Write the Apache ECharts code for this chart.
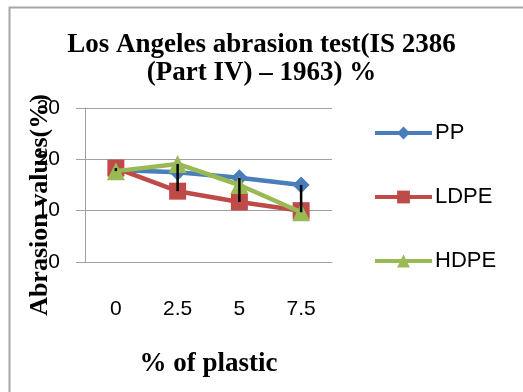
<!DOCTYPE html>
<html>
<head>
<meta charset="utf-8">
<script src="https://cdn.jsdelivr.net/npm/echarts@6/dist/echarts.min.js"></script>
<style>html,body{margin:0;padding:0;background:#fff}#c{width:523px;height:392px}</style>
</head>
<body>
<div id="c"></div>
<script>
var categories = ['0', '2.5', '5', '7.5'];
var ppValues = [17.9, 17.5, 16.4, 15.0];
var ldpeValues = [18.3, 13.8, 11.7, 10.0];
var hdpeValues = [17.7, 19.1, 15.0, 9.7];
var yTicks = [0, 10, 20, 30];

var hiLo = categories.map(function (c, i) {
  var v = [ppValues[i], ldpeValues[i], hdpeValues[i]];
  return [i, Math.min.apply(null, v), Math.max.apply(null, v)];
});

var chart = echarts.init(document.getElementById('c'), null, {renderer: 'canvas'});
var serif = '"Liberation Serif", "Times New Roman", serif';
var sans = '"Liberation Sans", Arial, sans-serif';

chart.setOption({
  animation: false,
  backgroundColor: '#fff',
  graphic: [{
    type: 'rect', left: 7, top: 5, z: 100,
    shape: {x: 0, y: 0, width: 600, height: 500},
    style: {fill: 'none', stroke: '#a6a6a6', lineWidth: 2}
  }, {
    type: 'text', x: 40, y: 205, rotation: Math.PI / 2, z: 1,
    style: {text: 'Abrasion values(%)', fontFamily: serif, fontWeight: 'bold', fontSize: 26,
            fill: '#000', align: 'center', verticalAlign: 'middle'}
  }],
  title: {
    text: 'Los Angeles abrasion test(IS 2386\n(Part IV) \u2013 1963) %',
    left: 'center', top: 26,
    textStyle: {fontFamily: serif, fontWeight: 'bold', fontSize: 27, lineHeight: 28, color: '#000'}
  },
  legend: {
    orient: 'vertical', left: 368, top: 117, itemGap: 42,
    itemWidth: 57, itemHeight: 16,
    lineStyle: {width: 4},
    textStyle: {fontFamily: sans, fontSize: 22, lineHeight: 22, color: '#000', padding: [0, 0, 0, -2]},
    data: ['PP', 'LDPE', 'HDPE']
  },
  grid: {left: 85, right: 191, top: 108, bottom: 130},
  xAxis: {
    type: 'category', data: categories, boundaryGap: true,
    name: '% of plastic', nameLocation: 'middle', nameGap: 89,
    nameTextStyle: {fontFamily: serif, fontWeight: 'bold', fontSize: 27, color: '#000'},
    axisLine: {show: true, lineStyle: {color: '#a0a0a0', width: 1}},
    axisTick: {show: false},
    axisLabel: {margin: 37, fontFamily: sans, fontSize: 21, color: '#000'}
  },
  yAxis: {
    type: 'value', min: yTicks[0], max: yTicks[yTicks.length - 1], interval: 10,
    axisLine: {show: true, lineStyle: {color: '#a0a0a0', width: 1}},
    axisTick: {show: true, length: 9, lineStyle: {color: '#a0a0a0'}},
    splitLine: {show: true, lineStyle: {color: '#a0a0a0', width: 1}},
    axisLabel: {margin: 25, fontFamily: sans, fontSize: 21, color: '#000'}
  },
  series: [
    {name: 'PP', type: 'line', data: ppValues, symbol: 'diamond', symbolSize: 17,
     color: '#4a7ebb', lineStyle: {width: 4.5}, itemStyle: {color: '#4a7ebb'}, z: 2},
    {name: 'LDPE', type: 'line', data: ldpeValues, symbol: 'rect', symbolSize: 17,
     color: '#be4b48', lineStyle: {width: 4.5}, itemStyle: {color: '#be4b48'}, z: 3},
    {name: 'HDPE', type: 'line', data: hdpeValues, symbol: 'triangle', symbolSize: 18,
     color: '#98b954', lineStyle: {width: 4.5}, itemStyle: {color: '#98b954'}, z: 4},
    {type: 'custom', z: 10, silent: true, data: hiLo,
     renderItem: function (params, api) {
       var a = api.coord([api.value(0), api.value(1)]);
       var b = api.coord([api.value(0), api.value(2)]);
       return {type: 'line', shape: {x1: a[0], y1: a[1], x2: b[0], y2: b[1]},
               style: {stroke: '#000', lineWidth: 2.5}};
     }}
  ]
});
</script>
</body>
</html>
